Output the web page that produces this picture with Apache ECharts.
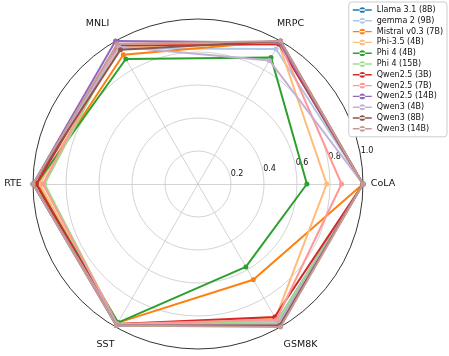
<!DOCTYPE html>
<html><head><meta charset="utf-8">
<script src="https://cdn.jsdelivr.net/npm/echarts@6/dist/echarts.min.js"></script>
<style>html,body{margin:0;padding:0;background:#fff}#c{width:449px;height:356px}</style>
</head><body><div id="c"></div>
<script>
const categories = ['CoLA', 'MRPC', 'MNLI', 'RTE', 'SST', 'GSM8K'];
const radialTicks = [0.2, 0.4, 0.6, 0.8, 1.0];
const models = ['Llama 3.1 (8B)', 'gemma 2 (9B)', 'Mistral v0.3 (7B)', 'Phi-3.5 (4B)', 'Phi 4 (4B)', 'Phi 4 (15B)',
  'Qwen2.5 (3B)', 'Qwen2.5 (7B)', 'Qwen2.5 (14B)', 'Qwen3 (4B)', 'Qwen3 (8B)', 'Qwen3 (14B)'];
const colors = ['#1f77b4', '#aec7e8', '#ff7f0e', '#ffbb78', '#2ca02c', '#98df8a',
  '#d62728', '#ff9896', '#9467bd', '#c5b0d5', '#8c564b', '#c49c94'];
// values per model, in category order
const llama31_8b   = [1.00, 0.99, 0.97, 0.98, 0.99, 0.96];
const gemma2_9b    = [1.00, 0.945, 0.95, 1.00, 0.98, 0.97];
const mistral_7b   = [1.00, 1.00, 0.905, 0.97, 0.97, 0.67];
const phi35_4b     = [0.78, 0.98, 0.96, 0.96, 0.98, 0.94];
const phi4_4b      = [0.66, 0.885, 0.875, 0.98, 0.97, 0.58];
const phi4_15b     = [1.00, 0.98, 0.97, 0.93, 0.98, 0.96];
const qwen25_3b    = [1.00, 0.98, 0.97, 0.98, 0.98, 0.93];
const qwen25_7b    = [0.87, 0.99, 0.98, 0.94, 0.98, 0.95];
const qwen25_14b   = [1.00, 0.99, 1.00, 1.00, 0.98, 0.98];
const qwen3_4b     = [1.00, 0.865, 0.96, 1.00, 0.98, 0.98];
const qwen3_8b     = [1.00, 1.00, 0.94, 1.00, 0.99, 0.99];
const qwen3_14b    = [1.00, 1.00, 0.98, 1.00, 0.99, 1.00];
const allValues = [llama31_8b, gemma2_9b, mistral_7b, phi35_4b, phi4_4b, phi4_15b,
  qwen25_3b, qwen25_7b, qwen25_14b, qwen3_4b, qwen3_8b, qwen3_14b];

const font = 'DejaVu Sans';
const chart = echarts.init(document.getElementById('c'));
const legendIcon = 'path://M0,3.25h20v1.5h-20z M10,1a3,3 0 1,0 0.001,0z';
chart.setOption({
  animation: false,
  color: colors,
  legend: {
    orient: 'vertical', right: 2, top: 2,
    data: models.map(m => ({name: m, icon: legendIcon})),
    itemWidth: 19, itemHeight: 7, itemGap: 2.8,
    padding: [4, 4, 4, 4],
    borderColor: '#cccccc', borderWidth: 1, borderRadius: 3,
    backgroundColor: '#fff',
    textStyle: {fontFamily: font, fontSize: 8, color: '#111', lineHeight: 8}
  },
  radar: {
    center: [198, 184], radius: 165, startAngle: 0, shape: 'circle',
    splitNumber: 5,
    indicator: categories.map(c => ({name: c, min: 0, max: 1})),
    axisName: {
      color: '#111', fontFamily: font, fontSize: 9.5, align: 'center', verticalAlign: 'middle',
      formatter: n => (n === 'MNLI' ? '{l|' + n + '}' : n === 'GSM8K' ? '{r|' + n + '}' : n),
      rich: {
        l: {fontFamily: font, fontSize: 9.5, color: '#111', padding: [0, 16, 0, 0]},
        r: {fontFamily: font, fontSize: 9.5, color: '#111', padding: [0, 0, 0, 20]}
      }
    },
    nameGap: 20,
    axisLine: {lineStyle: {color: '#c8c8c8', width: 0.8}},
    splitLine: {lineStyle: {color: ['#c8c8c8', '#c8c8c8', '#c8c8c8', '#c8c8c8', '#c8c8c8', '#000'], width: 0.8}},
    splitArea: {show: false}
  },
  polar: {center: [198, 184], radius: 165},
  angleAxis: {type: 'value', min: 0, max: 360, startAngle: 10, show: false},
  radiusAxis: {
    type: 'value', min: 0, max: 1, interval: 0.2,
    axisLine: {show: false}, axisTick: {show: false}, splitLine: {show: false},
    axisLabel: {
      fontFamily: font, fontSize: 8, color: '#111', margin: 0,
      align: 'center', verticalAlign: 'bottom', padding: [0, 0, 0, 13],
      formatter: v => (radialTicks.some(t => Math.abs(t - v) < 1e-6) ? v.toFixed(1) : '')
    }
  },
  series: models.map((m, i) => ({
    name: m, type: 'radar', z: 2 + i,
    symbol: 'circle', symbolSize: 5,
    lineStyle: {width: 2, color: colors[i]},
    itemStyle: {color: colors[i]},
    data: [{name: m, value: allValues[i]}]
  }))
});
</script></body></html>
